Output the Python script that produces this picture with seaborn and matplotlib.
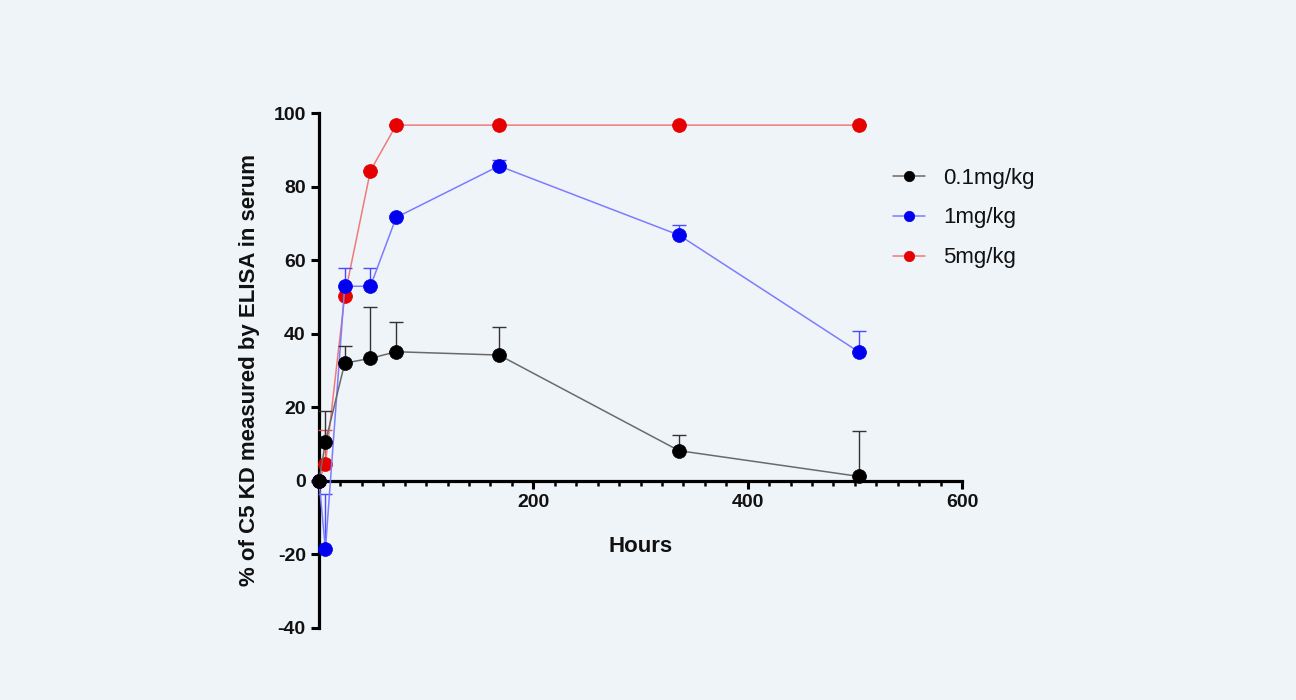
import matplotlib
matplotlib.use("Agg")
import matplotlib.pyplot as plt
import seaborn as sns
import numpy as np
from matplotlib.ticker import MultipleLocator

hours = [0, 6, 24, 48, 72, 168, 336, 504]

low_vals = [0, 10.5, 32.0, 33.3, 35.1, 34.2, 8.2, 1.2]
low_err = [0, 8.5, 4.7, 14.0, 8.2, 7.5, 4.3, 12.3]

mid_vals = [0, -18.6, 52.9, 52.9, 71.6, 85.6, 66.8, 35.0]
mid_err = [0, 15.0, 5.0, 5.0, 0.8, 1.5, 2.8, 5.8]

high_vals = [0, 4.7, 50.3, 84.3, 96.7, 96.7, 96.7, 96.7]
high_err = [0, 9.0, 0, 0, 0, 0, 0, 0]

labels = ["0.1mg/kg", "1mg/kg", "5mg/kg"]

bg = "#eff4f9"
sns.set_theme(style="ticks")
plt.rcParams["font.family"] = ["Liberation Sans", "DejaVu Sans"]
plt.rcParams["axes.unicode_minus"] = False

fig = plt.figure(figsize=(12.96, 7.0), dpi=100, facecolor=bg)
ax = fig.add_axes([319 / 1296, 1 - 628 / 700, 643 / 1296, 515 / 700])
ax.set_facecolor(bg)

series = [
    (high_vals, high_err, labels[2], "#e60000", "#f07a7a", "#e05050"),
    (mid_vals, mid_err, labels[1], "#0000f0", "#7c7cff", "#4a4aff"),
    (low_vals, low_err, labels[0], "#000000", "#6a6a6a", "#333333"),
]

z = 3
for vals, err, lab, mc, lc, ec in series:
    ax.errorbar(hours, vals, yerr=[np.zeros(len(err)), err], fmt="none",
                ecolor=ec, elinewidth=1.0, capsize=5, capthick=1.0,
                zorder=z, clip_on=False)
    sns.lineplot(x=hours, y=vals, ax=ax, color=lc, linewidth=1.1,
                 marker="o", markersize=10, markerfacecolor=mc,
                 markeredgecolor=mc, markeredgewidth=0.5, label=lab,
                 errorbar=None, zorder=z + 1, clip_on=False)
    z += 2

ax.set_xlim(0, 600)
ax.set_ylim(-40, 100)
ax.spines["top"].set_visible(False)
ax.spines["right"].set_visible(False)
ax.spines["bottom"].set_position(("data", 0))
for s in ("left", "bottom"):
    ax.spines[s].set_linewidth(2.3)
    ax.spines[s].set_color("black")

ax.xaxis.set_minor_locator(MultipleLocator(20))
ax.yaxis.set_major_locator(MultipleLocator(20))
ax.set_xticks([0, 200, 400, 600])
ax.set_xticklabels(["", "200", "400", "600"])
ax.tick_params(axis="both", which="major", direction="out", length=6,
               width=2.2, color="black", labelsize=14, labelcolor="#111111")
ax.tick_params(axis="x", which="minor", direction="out", length=3.5,
               width=1.8, color="black")
for t in ax.get_xticklabels() + ax.get_yticklabels():
    t.set_fontweight("bold")

ax.set_xlabel("Hours", fontsize=16, fontweight="bold", color="#111111",
              labelpad=18)
ax.set_ylabel("% of C5 KD measured by ELISA in serum", fontsize=16,
              fontweight="bold", color="#111111", labelpad=10)

handles, labs = ax.get_legend_handles_labels()
lg = ax.get_legend()
if lg is not None:
    lg.remove()
order = [labs.index(l) for l in labels]
leg = fig.legend([handles[i] for i in order], [labs[i] for i in order],
                 loc="center left", bbox_to_anchor=(893 / 1296, 1 - 218 / 700),
                 bbox_transform=fig.transFigure, frameon=False, fontsize=16,
                 borderaxespad=0, borderpad=0, handlelength=1.45,
                 handletextpad=0.8, labelspacing=0.85, markerscale=0.75)
for t in leg.get_texts():
    t.set_color("#111111")

fig.savefig("out.png", dpi=100, facecolor=bg)
